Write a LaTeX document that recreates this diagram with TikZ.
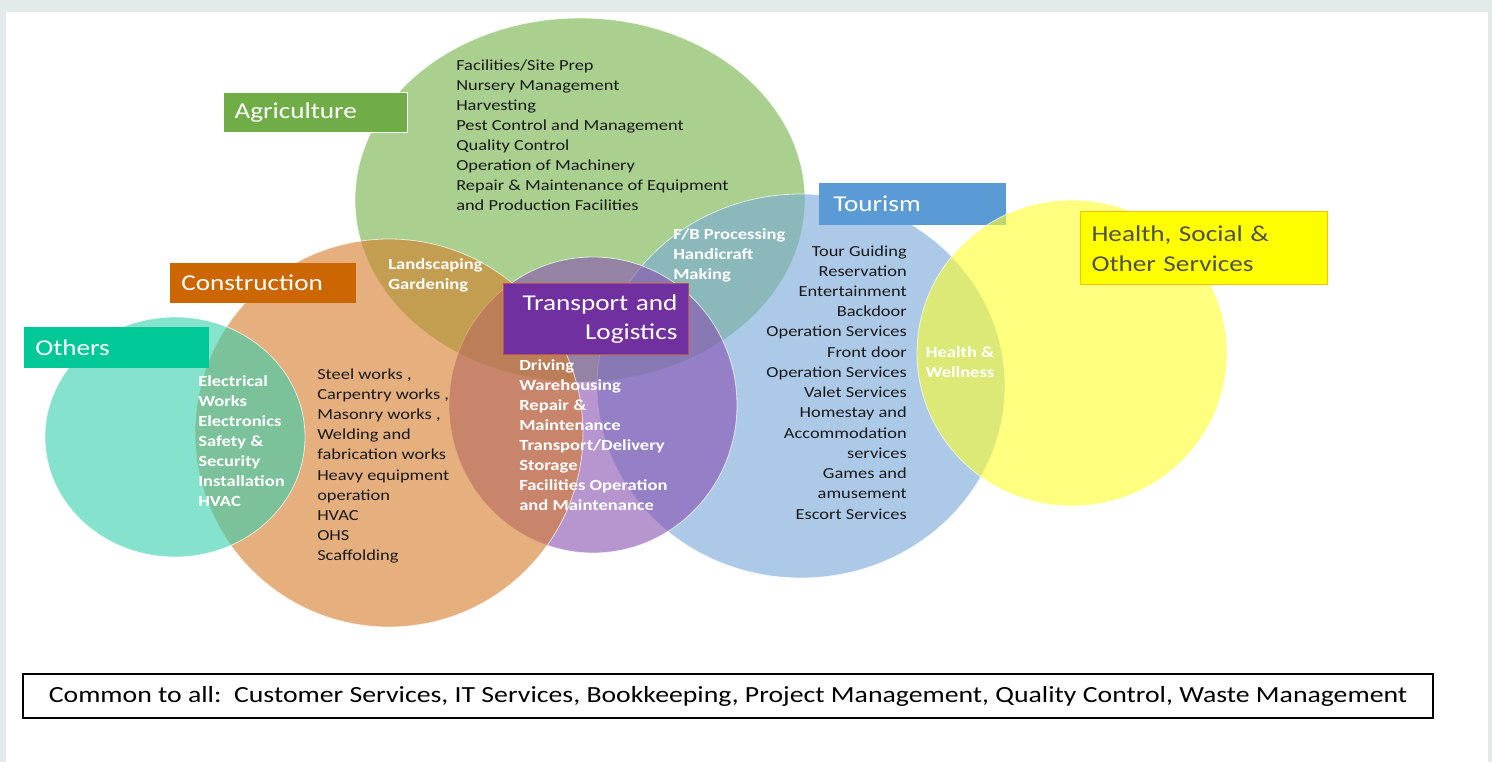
\documentclass[tikz,border=0pt]{standalone}
\usepackage{fontspec}
\setmainfont{Carlito}[FakeStretch=1.2]
\definecolor{gbg}{HTML}{E3EBEA}
\definecolor{agri}{HTML}{70B243}
\definecolor{cons}{HTML}{D57B28}
\definecolor{oth}{HTML}{35D0AD}
\definecolor{trans}{HTML}{8750B1}
\definecolor{tour}{HTML}{76A8D9}
\definecolor{hlth}{HTML}{FFFF2B}
\definecolor{agriL}{HTML}{70AD47}
\definecolor{consL}{HTML}{CC6600}
\definecolor{othL}{HTML}{00C896}
\definecolor{transL}{HTML}{7030A0}
\definecolor{tourL}{HTML}{5B9BD5}
\definecolor{hlthL}{HTML}{FFFF00}
\definecolor{transB}{HTML}{C0504D}
\definecolor{hlthB}{HTML}{FFC000}
\definecolor{hlthT}{HTML}{505050}
\begin{document}
\begin{tikzpicture}[x=0.75pt,y=-0.75pt,
  venn/.style={fill opacity=0.6, draw=white, draw opacity=0.7, line width=0.6pt},
  lbl/.style={anchor=west, inner xsep=8.25pt, inner ysep=0pt, text=white, align=left,
              font=\fontsize{17pt}{21pt}\selectfont},
  lst/.style={inner sep=0pt, align=left, anchor=base west, text=black!90,
              font=\fontsize{11.5pt}{15pt}\selectfont},
  wht/.style={inner sep=0pt, align=left, anchor=base west, text=white,
              font=\bfseries\fontsize{11.6pt}{15pt}\selectfont}]
\fill[gbg] (0,0) rectangle (1492,762);
\fill[white] (6,12) rectangle (1488,762);
\useasboundingbox (0,0) rectangle (1492,762);
% circles
\path[venn, fill=agri] (580,200) ellipse [x radius=168.75pt, y radius=136.5pt];
\path[venn, fill=tour] (801,386) ellipse [x radius=153pt, y radius=144pt];
\path[venn, fill=trans] (593,405) ellipse [x radius=108pt, y radius=111pt];
\path[venn, fill=cons] (389,433) ellipse [x radius=145.5pt, y radius=145.5pt];
\path[venn, fill=oth] (175,437) ellipse [x radius=97.5pt, y radius=90pt];
% labels
\node[lbl, fill=agriL, draw=white, line width=0.75pt, text width=121.5pt, minimum height=30pt] (agl) at (223,113) {Agriculture};
\node[lbl, fill=consL, text width=123pt, minimum height=30pt] (conl) at (170,283) {Construction};
\node[lbl, fill=othL, text width=122.25pt, minimum height=30.75pt] (othl) at (24,347.5) {Others};
\node[lbl, fill=transL, draw=transB, line width=0.75pt, align=right, text width=122.25pt, minimum height=53.25pt,
      font=\fontsize{17pt}{21.75pt}\selectfont] (trl) at (503,319.5) {Transport and\\Logistics};
\node[lbl, fill=tourL, inner xsep=10.5pt, text width=119.25pt, minimum height=31.5pt] (toul) at (819,204) {Tourism};
\path[venn, fill=hlth] (1072,353) ellipse [x radius=116.25pt, y radius=114.75pt];
\node[lbl, fill=hlthL, draw=hlthB, line width=0.75pt, text=hlthT, text width=168.75pt, minimum height=54.75pt,
      font=\fontsize{17pt}{22.5pt}\selectfont] (hel) at (1080,248.5) {Health, Social \&\\Other Services};
% lists (base anchor = baseline of the last line)
\node[lst] (agrilist) at (456,211) {Facilities/Site Prep\\Nursery Management\\Harvesting\\Pest Control and Management\\Quality Control\\Operation of Machinery\\Repair \& Maintenance of Equipment\\and Production Facilities};
\node[lst, font=\fontsize{11.5pt}{15.15pt}\selectfont] (conlist) at (317,561) {Steel works ,\\Carpentry works ,\\Masonry works ,\\Welding and\\fabrication works\\Heavy equipment\\operation\\HVAC\\OHS\\Scaffolding};
\node[lst, anchor=base east, align=right, font=\fontsize{11.5pt}{15.17pt}\selectfont] (toulist) at (907,519) {Tour Guiding\\Reservation\\Entertainment\\Backdoor\\Operation Services\\Front door\\Operation Services\\Valet Services\\Homestay and\\Accommodation\\services\\Games and\\amusement\\Escort Services};
\node[wht] (landsc) at (388,290) {Landscaping\\Gardening};
\node[wht] (fbp) at (673,280) {F/B Processing\\Handicraft\\Making};
\node[wht] (elec) at (198,507) {Electrical\\Works\\Electronics\\Safety \&\\Security\\Installation\\HVAC};
\node[wht] (drv) at (519,511) {Driving\\Warehousing\\Repair \&\\Maintenance\\Transport/Delivery\\Storage\\Facilities Operation\\and Maintenance};
\node[wht, anchor=base, align=center] (hw) at (960,378) {Health \&\\Wellness};
% common box
\node[draw=black, line width=1.5pt, fill=white, minimum width=1057.5pt, minimum height=33pt, inner sep=0pt,
      font=\fontsize{17.35pt}{20pt}\selectfont] (common) at (728,696)
  {Common to all:\ \ Customer Services, IT Services, Bookkeeping, Project Management, Quality Control, Waste Management};
\end{tikzpicture}
\end{document}
